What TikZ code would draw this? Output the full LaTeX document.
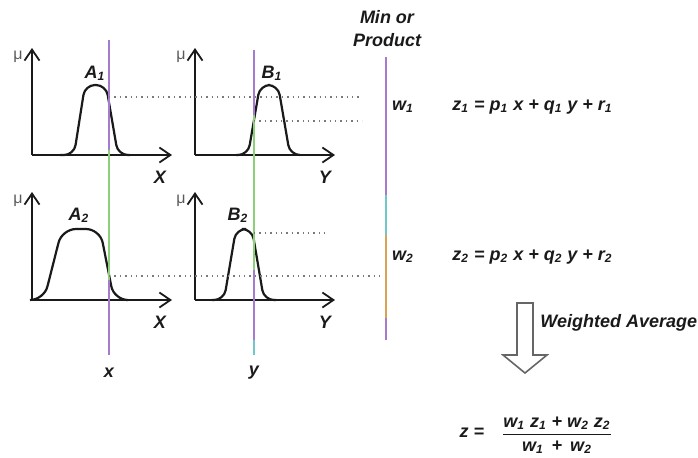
\documentclass[tikz,border=0pt]{standalone}
\usepackage{fontspec}
\setmainfont{Liberation Sans}
\usetikzlibrary{positioning, arrows.meta}
\definecolor{lineViolet}{HTML}{A57BD0}
\definecolor{lineGreen}{HTML}{8ED07A}
\definecolor{lineTeal}{HTML}{6FC7C9}
\definecolor{lineOrange}{HTML}{D9A255}
\definecolor{dotGray}{HTML}{7A7A7A}
\definecolor{inkBlack}{HTML}{1A1A1A}
\newcommand{\ix}[1]{\textsubscript{#1}}
\tikzset{
  axis/.style={inkBlack, line width=1.1pt, -{Straight Barb[length=5.5pt, width=7.5pt, line width=0.9pt]}},
  bell/.style={inkBlack, line width=1.1pt, rounded corners=5pt},
  level/.style={dotGray, dotted, line width=0.7pt},
  mu/.style={font=\fontsize{8}{9}\selectfont, text=black!65, inner sep=1pt},
  blockarrow/.style={draw=gray!80!black, line width=0.8pt, fill=white},
}
\begin{document}
\begin{tikzpicture}[x=0.5pt, y=-0.5pt,
    every node/.style={font=\fontsize{9}{11}\selectfont\bfseries\itshape, text=inkBlack, inner sep=1pt}]
  \useasboundingbox (0,0) rectangle (698,457);
  % axes of the four membership plots
  \foreach \ox/\oy/\ty/\nm in {32/155/48/a, 195/155/48/b, 32/300/192/c, 195/300/192/d} {
    \draw[axis] (\ox,\oy) -- (\ox+140,\oy);
    \draw[axis] (\ox,\oy) -- (\ox,\ty);
    \node[mu] (mu\nm) at (\ox-14,\ty+9) {μ};
  }
  \node (labXa) at (160,177) {X};
  \node (labYa) at (325,177) {Y};
  \node (labXc) at (160,322) {X};
  \node (labYc) at (325,322) {Y};
  % membership functions
  \draw[bell] (60,155) -- (74,155) -- (85,85) -- (106,85) -- (118,155) -- (130,155);
  \draw[bell] (236,155) -- (248,155) -- (260,85) -- (278,85) -- (290,155) -- (300,155);
  \draw[bell, rounded corners=7pt] (30,300) -- (44,300) -- (62,229) -- (100,229) -- (114,300) -- (126,300);
  \draw[bell] (212,300) -- (224,300) -- (236,229) -- (252,229) -- (264,300) -- (276,300);
  \node (labA1) at (95,73) {A\ix{1}};
  \node (labB1) at (272,73) {B\ix{1}};
  \node (labA2) at (79,215) {A\ix{2}};
  \node (labB2) at (238,215) {B\ix{2}};
  % crisp inputs x and y
  \coordinate (xTop) at (109,40);
  \coordinate (xBot) at (109,355);
  \coordinate (yTop) at (254,50);
  \coordinate (yBot) at (254,355);
  \draw[lineViolet, line width=0.8pt] (xTop) -- (109,150);
  \draw[lineGreen, line width=0.8pt] (109,150) -- (109,280);
  \draw[lineViolet, line width=0.8pt] (109,280) -- (xBot);
  \draw[lineViolet, line width=0.8pt] (yTop) -- (254,115);
  \draw[lineGreen, line width=0.8pt] (254,115) -- (254,270);
  \draw[lineViolet, line width=0.8pt] (254,270) -- (254,340);
  \draw[lineTeal, line width=0.8pt] (254,340) -- (yBot);
  \node (inX) at (109,373) {x};
  \node (inY) at (254,373) {y};
  % membership grades carried to the right
  \coordinate (ruleA) at (362,97);
  \coordinate (ruleB) at (362,121);
  \coordinate (ruleC) at (325,233);
  \coordinate (ruleD) at (380,276);
  \draw[level] (109,97) -- (ruleA);
  \draw[level] (254,121) -- (ruleB);
  \draw[level] (254,233) -- (ruleC);
  \draw[level] (109,276) -- (ruleD);
  % min or product column
  \node[align=center, font=\fontsize{9}{11.5}\selectfont\bfseries\itshape] (minProd) at (387,29) {Min or\\Product};
  \coordinate (minTop) at (386,57);
  \coordinate (minBot) at (386,340);
  \draw[lineViolet, line width=0.8pt] (minTop) -- (386,195);
  \draw[lineTeal, line width=0.8pt] (386,195) -- (386,235);
  \draw[lineOrange, line width=0.8pt] (386,235) -- (386,318);
  \draw[lineViolet, line width=0.8pt] (386,318) -- (minBot);
  \node (w1) at (403,107) {w\ix{1}};
  \node (w2) at (403,257) {w\ix{2}};
  \node[anchor=west] (z1) at (450,107) {z\ix{1} = p\ix{1} x + q\ix{1} y + r\ix{1}};
  \node[anchor=west] (z2) at (450,257) {z\ix{2} = p\ix{2} x + q\ix{2} y + r\ix{2}};
  % weighted average
  \draw[blockarrow] (517,303) -- (533,303) -- (533,355) -- (547,355) -- (525,373)
    -- (503,355) -- (517,355) -- cycle;
  \node[anchor=west] (wavg) at (538,323) {Weighted Average};
  \node (zOut) at (472,433) {z =};
  \node (zFrac) at (557,435) {$\displaystyle\frac{\mbox{w\ix{1} z\ix{1} + w\ix{2} z\ix{2}}}{\mbox{w\ix{1} \,+\, w\ix{2}}}$};
\end{tikzpicture}
\end{document}
